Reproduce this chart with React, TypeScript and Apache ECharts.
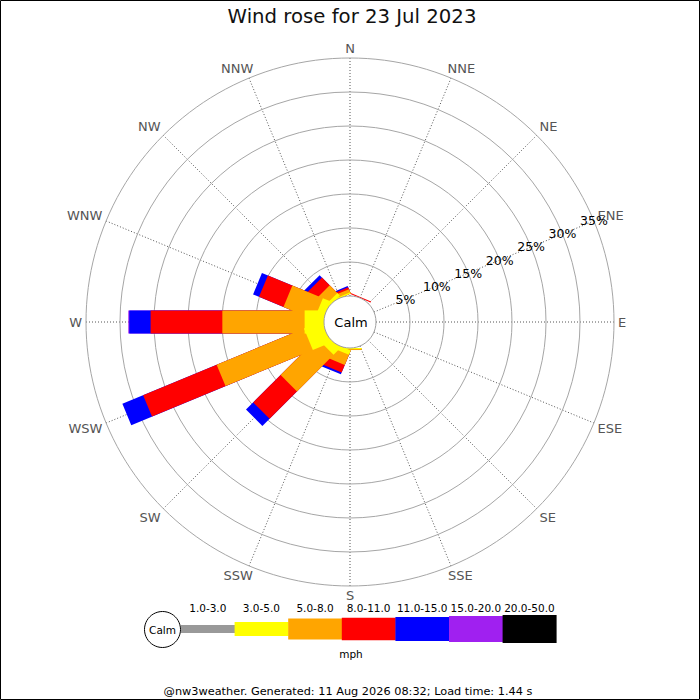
import React, { useEffect, useRef } from "react";
import * as echarts from "echarts";

// ---------- data ----------
const TITLE = "Wind rose for 23 Jul 2023";
const FOOTER = "@nw3weather. Generated: 11 Aug 2026 08:32; Load time: 1.44 s";
const UNIT = "mph";
const CALM_LABEL = "Calm";

const DIRECTIONS = ["N", "NNE", "NE", "ENE", "E", "ESE", "SE", "SSE", "S", "SSW", "SW", "WSW", "W", "WNW", "NW", "NNW"];
const SPEED_BINS = ["1.0-3.0", "3.0-5.0", "5.0-8.0", "8.0-11.0", "11.0-15.0", "15.0-20.0", "20.0-50.0"];
const BIN_COLORS = ["#999999", "#ffff00", "#ffa500", "#ff0000", "#0000ff", "#a020f0", "#000000"];
const RING_VALUES = [5, 10, 15, 20, 25, 30, 35];

// percentage of time per direction (N .. NNW) for each speed bin
const pct1to3 = [0, 0, 0, 0, 0, 0, 0, 0, 0, 0, 0, 0, 0, 0, 0, 0];
const pct3to5 = [0, 0, 0, 0, 0, 0, 0, 0, 0.15, 0.7, 1.3, 2.8, 2.85, 1.2, 0.5, 0.2];
const pct5to8 = [0, 0, 0, 0, 0, 0, 0, 0, 0.15, 1.6, 7.6, 13.9, 12.1, 4.86, 1.6, 0.5];
const pct8to11 = [0, 0.15, 0, 0, 0, 0, 0, 0, 0, 1.2, 5.7, 11.7, 10.55, 3.89, 1.6, 0.3];
const pct11to15 = [0, 0, 0, 0, 0, 0, 0, 0, 0, 0.3, 1.5, 3.3, 3.13, 0.95, 0.5, 0.2];
const pct15to20 = [0, 0, 0, 0, 0, 0, 0, 0, 0, 0, 0, 0, 0.15, 0, 0, 0];
const pct20to50 = [0, 0, 0, 0, 0, 0, 0, 0, 0, 0, 0, 0, 0, 0, 0, 0];

const BINS = [pct1to3, pct3to5, pct5to8, pct8to11, pct11to15, pct15to20, pct20to50];

// ---------- layout ----------
const FONT = "DejaVu Sans";
const CX = 350;
const CY = 322;
const RADIUS = 264;
const CALM_R = 26;
const R_MAX = 35;
const R_MIN = -(CALM_R * R_MAX) / (RADIUS - CALM_R); // maps 0% to the calm circle edge
const HALF_W = 11.6;
const LABEL_GAP = 4;

function measure(text: string, size: number) {
  const c = document.createElement("canvas").getContext("2d");
  if (!c) return text.length * size * 0.65;
  c.font = `${size}px '${FONT}'`;
  return c.measureText(text).width;
}

export default function App() {
  const ref = useRef<HTMLDivElement>(null);

  useEffect(() => {
    if (!ref.current) return;
    const chart = echarts.init(ref.current, null, { renderer: "svg" });

    // cumulative values per bin
    const cum: number[][] = [];
    BINS.forEach((arr, k) => {
      cum.push(arr.map((v, i) => v + (k > 0 ? cum[k - 1][i] : 0)));
    });

    const barSeries: any[] = [];
    for (let k = BINS.length - 1; k >= 0; k--) {
      const data = DIRECTIONS.map((_, i) => [cum[k][i], i * 22.5, BINS[k][i]]).filter((d) => d[2] > 0);
      const color = BIN_COLORS[k];
      barSeries.push({
        type: "custom",
        name: SPEED_BINS[k],
        coordinateSystem: "polar",
        z: 3 + (BINS.length - 1 - k),
        data,
        renderItem: (params: any, api: any) => {
          const cs = params.coordSys;
          const val = api.value(0);
          const ang = api.value(1);
          const b = api.coord([0, ang]);
          const t = api.coord([val, ang]);
          let dx = b[0] - cs.cx;
          let dy = b[1] - cs.cy;
          const L = Math.hypot(dx, dy) || 1;
          dx /= L;
          dy /= L;
          const px = -dy * HALF_W;
          const py = dx * HALF_W;
          return {
            type: "polygon",
            shape: {
              points: [
                [b[0] + px, b[1] + py],
                [t[0] + px, t[1] + py],
                [t[0] - px, t[1] - py],
                [b[0] - px, b[1] - py],
              ],
            },
            style: { fill: color },
          };
        },
      });
    }

    const ringSeries = {
      type: "custom",
      coordinateSystem: "polar",
      z: 1,
      silent: true,
      data: RING_VALUES.map((v) => [v, 0]),
      renderItem: (params: any, api: any) => {
        const cs = params.coordSys;
        const p = api.coord([api.value(0), 0]);
        const r = Math.hypot(p[0] - cs.cx, p[1] - cs.cy);
        return {
          type: "circle",
          shape: { cx: cs.cx, cy: cs.cy, r },
          style: { fill: "none", stroke: "#a6a6a6", lineWidth: 1 },
        };
      },
    };

    const ringLabelSeries = {
      type: "custom",
      coordinateSystem: "polar",
      z: 20,
      silent: true,
      data: RING_VALUES.map((v) => [v, 67.5]),
      renderItem: (params: any, api: any) => {
        const p = api.coord([api.value(0), api.value(1)]);
        return {
          type: "text",
          x: p[0],
          y: p[1],
          style: {
            text: RING_VALUES[params.dataIndex] + "%",
            fontSize: 12.5,
            fontFamily: FONT,
            fill: "#000",
            align: "center",
            verticalAlign: "middle",
          },
        };
      },
    };

    const dirLabelSeries = {
      type: "custom",
      coordinateSystem: "polar",
      z: 15,
      silent: true,
      data: DIRECTIONS.map((_, i) => [R_MAX, i * 22.5]),
      renderItem: (params: any, api: any) => {
        const cs = params.coordSys;
        const ang = api.value(1);
        const p = api.coord([R_MAX, ang]);
        const R = Math.hypot(p[0] - cs.cx, p[1] - cs.cy);
        const rad = (ang * Math.PI) / 180;
        const s = Math.sin(rad);
        const c = Math.cos(rad);
        const ar = R + LABEL_GAP;
        const ax = cs.cx + ar * s;
        const ay = cs.cy - ar * c;
        const text = DIRECTIONS[params.dataIndex];
        const w = measure(text, 13);
        const h = 11;
        const ramp = (v: number) => Math.min(1, Math.abs(v) / 0.6);
        const sgn = (v: number) => (Math.abs(v) < 1e-9 ? 0 : Math.sign(v));
        return {
          type: "text",
          x: ax + sgn(s) * ramp(s) * (w / 2),
          y: ay - sgn(c) * ramp(c) * (h / 2),
          style: {
            text,
            fontSize: 13,
            fontFamily: FONT,
            fill: "#555",
            align: "center",
            verticalAlign: "middle",
          },
        };
      },
    };

    const calmSeries = {
      type: "custom",
      coordinateSystem: "polar",
      z: 12,
      silent: true,
      data: [[0, 0]],
      renderItem: (params: any, api: any) => {
        const cs = params.coordSys;
        const p = api.coord([0, 0]);
        const r = Math.hypot(p[0] - cs.cx, p[1] - cs.cy);
        return {
          type: "group",
          children: [
            {
              type: "circle",
              shape: { cx: cs.cx, cy: cs.cy, r },
              style: { fill: "#fff", stroke: "#a0a0a0", lineWidth: 1 },
            },
            {
              type: "text",
              x: cs.cx + 1,
              y: cs.cy,
              style: {
                text: CALM_LABEL,
                fontSize: 13,
                fontFamily: FONT,
                fill: "#000",
                align: "center",
                verticalAlign: "middle",
              },
            },
          ],
        };
      },
    };

    // legend (graphic)
    const LEG_X0 = 181;
    const LEG_W = 53.6;
    const LEG_CY = 629;
    const LEG_H = [8, 14, 21, 22.5, 24, 26, 28];
    const graphics: any[] = [
      {
        type: "rect",
        shape: { x: 0.5, y: 0.5, width: 699, height: 699 },
        style: { fill: "none", stroke: "#000", lineWidth: 1 },
        z: 50,
      },
      {
        type: "text",
        x: 352,
        y: 16,
        style: { text: TITLE, fontSize: 19.7, fontFamily: FONT, fill: "#111", align: "center", verticalAlign: "middle" },
      },
      {
        type: "circle",
        shape: { cx: 162.5, cy: 629.5, r: 18 },
        style: { fill: "#fff", stroke: "#000", lineWidth: 1 },
      },
      {
        type: "text",
        x: 162.5,
        y: 630,
        style: { text: CALM_LABEL, fontSize: 10.5, fontFamily: FONT, fill: "#000", align: "center", verticalAlign: "middle" },
      },
      {
        type: "text",
        x: 351,
        y: 654,
        style: { text: UNIT, fontSize: 10.5, fontFamily: FONT, fill: "#000", align: "center", verticalAlign: "middle" },
      },
      {
        type: "text",
        x: 348,
        y: 691.5,
        style: { text: FOOTER, fontSize: 11.3, fontFamily: FONT, fill: "#000", align: "center", verticalAlign: "middle" },
      },
    ];
    SPEED_BINS.forEach((lab, i) => {
      const h = LEG_H[i];
      graphics.push({
        type: "rect",
        shape: { x: LEG_X0 + i * LEG_W, y: LEG_CY - h / 2, width: LEG_W + 0.4, height: h },
        style: { fill: BIN_COLORS[i] },
      });
      graphics.push({
        type: "text",
        x: LEG_X0 + i * LEG_W + LEG_W / 2,
        y: 608,
        style: { text: lab, fontSize: 10.5, fontFamily: FONT, fill: "#000", align: "center", verticalAlign: "middle" },
      });
    });

    chart.setOption({
      animation: false,
      backgroundColor: "#fff",
      textStyle: { fontFamily: FONT },
      polar: { center: [CX, CY], radius: RADIUS },
      angleAxis: {
        type: "value",
        min: 0,
        max: 360,
        interval: 22.5,
        startAngle: 90,
        clockwise: true,
        axisLine: { show: false },
        axisTick: { show: false },
        axisLabel: { show: false },
        splitLine: { show: true, lineStyle: { color: "#555", width: 1, type: [1, 2] } },
      },
      radiusAxis: {
        type: "value",
        min: R_MIN,
        max: R_MAX,
        axisLine: { show: false },
        axisTick: { show: false },
        axisLabel: { show: false },
        splitLine: { show: false },
      },
      series: [ringSeries, ...barSeries, calmSeries, dirLabelSeries, ringLabelSeries],
      graphic: graphics,
    });

    return () => chart.dispose();
  }, []);

  return (
    <div
      ref={ref}
      style={{ position: "fixed", left: 0, top: 0, width: 700, height: 700, background: "#fff" }}
    />
  );
}
